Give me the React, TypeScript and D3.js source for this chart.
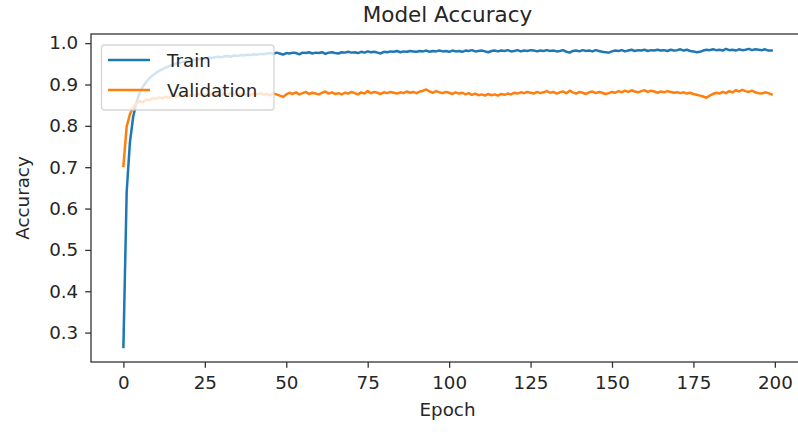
import React, { useEffect, useRef } from 'react';
import * as d3 from 'd3';

// accuracy per epoch
const trainAcc = [
  0.265, 0.640, 0.760, 0.822, 0.856, 0.880, 0.895, 0.906, 0.915, 0.922,
  0.928, 0.933, 0.937, 0.941, 0.944, 0.947, 0.950, 0.952, 0.954, 0.956,
  0.957, 0.959, 0.960, 0.961, 0.963, 0.962, 0.965, 0.964, 0.966, 0.967,
  0.966, 0.968, 0.969, 0.967, 0.970, 0.969, 0.971, 0.970, 0.972, 0.971,
  0.973, 0.972, 0.974, 0.973, 0.975, 0.976, 0.974, 0.977, 0.975, 0.972,
  0.976, 0.975, 0.977, 0.976, 0.973, 0.977, 0.976, 0.978, 0.975, 0.977,
  0.976, 0.978, 0.974, 0.977, 0.978, 0.976, 0.975, 0.978, 0.977, 0.979,
  0.977, 0.978, 0.976, 0.979, 0.977, 0.980, 0.978, 0.979, 0.977, 0.975,
  0.979, 0.978, 0.980, 0.979, 0.981, 0.978, 0.980, 0.979, 0.981, 0.980,
  0.979, 0.981, 0.980, 0.982, 0.979, 0.981, 0.980, 0.982, 0.980, 0.981,
  0.979, 0.982, 0.980, 0.981, 0.979, 0.982, 0.981, 0.983, 0.980, 0.981,
  0.982, 0.980, 0.978, 0.981, 0.982, 0.980, 0.982, 0.981, 0.983, 0.980,
  0.981, 0.983, 0.980, 0.982, 0.981, 0.983, 0.982, 0.980, 0.982, 0.981,
  0.983, 0.981, 0.982, 0.980, 0.981, 0.983, 0.979, 0.977, 0.981, 0.982,
  0.980, 0.983, 0.981, 0.982, 0.980, 0.983, 0.981, 0.979, 0.978, 0.977,
  0.980, 0.982, 0.981, 0.983, 0.980, 0.982, 0.984, 0.981, 0.983, 0.982,
  0.984, 0.981, 0.983, 0.982, 0.984, 0.982, 0.983, 0.981, 0.984, 0.982,
  0.983, 0.985, 0.982, 0.984, 0.981, 0.980, 0.978, 0.979, 0.982, 0.984,
  0.983, 0.985, 0.983, 0.984, 0.982, 0.986, 0.983, 0.984, 0.982, 0.985,
  0.983, 0.984, 0.986, 0.983, 0.985, 0.984, 0.983, 0.985, 0.982, 0.982,
];

const valAcc = [
  0.703, 0.798, 0.828, 0.845, 0.853, 0.860, 0.857, 0.864, 0.862, 0.867,
  0.865, 0.869, 0.866, 0.871, 0.868, 0.872, 0.870, 0.874, 0.871, 0.875,
  0.872, 0.876, 0.873, 0.877, 0.874, 0.876, 0.873, 0.877, 0.875, 0.878,
  0.874, 0.877, 0.875, 0.879, 0.876, 0.874, 0.878, 0.875, 0.877, 0.874,
  0.878, 0.876, 0.879, 0.875, 0.877, 0.874, 0.878, 0.876, 0.873, 0.870,
  0.876, 0.880, 0.877, 0.881, 0.876, 0.879, 0.882, 0.877, 0.880, 0.878,
  0.876, 0.880, 0.883, 0.878, 0.881, 0.877, 0.879, 0.876, 0.880, 0.878,
  0.882, 0.879, 0.876, 0.881, 0.878, 0.884, 0.879, 0.882, 0.880, 0.877,
  0.881, 0.879, 0.882, 0.880, 0.878, 0.881, 0.879, 0.883, 0.880, 0.882,
  0.879, 0.883, 0.885, 0.888, 0.883, 0.880, 0.884, 0.881, 0.879, 0.882,
  0.880, 0.877, 0.881, 0.878, 0.880, 0.876, 0.879, 0.875, 0.878, 0.874,
  0.876, 0.873, 0.877, 0.874, 0.876, 0.873, 0.877, 0.875, 0.878, 0.876,
  0.880, 0.878, 0.881, 0.879, 0.882, 0.880, 0.878, 0.882, 0.879, 0.881,
  0.884, 0.880, 0.882, 0.878, 0.881, 0.883, 0.879, 0.885, 0.881, 0.878,
  0.882, 0.880, 0.877, 0.881, 0.883, 0.879, 0.882, 0.880, 0.877, 0.879,
  0.882, 0.880, 0.884, 0.881, 0.885, 0.882, 0.886, 0.883, 0.881, 0.884,
  0.886, 0.882, 0.885, 0.883, 0.880, 0.883, 0.881, 0.884, 0.882, 0.880,
  0.881, 0.879, 0.881, 0.878, 0.880, 0.877, 0.875, 0.873, 0.871, 0.868,
  0.873, 0.877, 0.880, 0.878, 0.882, 0.879, 0.884, 0.881, 0.886, 0.883,
  0.887, 0.884, 0.882, 0.885, 0.881, 0.879, 0.878, 0.881, 0.879, 0.876,
];

const xTicks = [0, 25, 50, 75, 100, 125, 150, 175, 200];
const yTicks = [0.3, 0.4, 0.5, 0.6, 0.7, 0.8, 0.9, 1.0];
const seriesNames = ['Train', 'Validation'];
const seriesColors = ['#1f77b4', '#ff7f0e'];

const W = 798;
const H = 432;
const FONT = '"DejaVu Sans", sans-serif';
const FS = '18.3px';

const AccuracyChart = () => {
  const ref = useRef<SVGSVGElement>(null);

  useEffect(() => {
    const svg = d3.select(ref.current);
    svg.selectAll('*').remove();

    // axes box (right spine falls just outside the picture, as in the reference)
    const box = { left: 91, right: 804, top: 34, bottom: 362 };

    const n = trainAcc.length;
    const all = trainAcc.concat(valAcc);
    const lo = d3.min(all)!;
    const hi = d3.max(all)!;
    const pad = (hi - lo) * 0.05;
    const xPad = (n - 1) * 0.05;

    const x = d3.scaleLinear().domain([-xPad, n - 1 + xPad]).range([box.left, box.right]);
    const y = d3.scaleLinear().domain([lo - pad, hi + pad]).range([box.bottom, box.top]);

    const textColor = '#262626';

    // lines
    const line = d3
      .line<number>()
      .x((_, i) => x(i))
      .y((d) => y(d));

    [trainAcc, valAcc].forEach((s, k) => {
      svg
        .append('path')
        .datum(s)
        .attr('fill', 'none')
        .attr('stroke', seriesColors[k])
        .attr('stroke-width', 2.5)
        .attr('stroke-linejoin', 'round')
        .attr('stroke-linecap', 'square')
        .attr('d', line);
    });

    // spines
    svg
      .append('rect')
      .attr('x', box.left)
      .attr('y', box.top)
      .attr('width', box.right - box.left)
      .attr('height', box.bottom - box.top)
      .attr('fill', 'none')
      .attr('stroke', '#333')
      .attr('stroke-width', 1.3);

    // x axis
    const gx = svg
      .append('g')
      .attr('transform', `translate(0,${box.bottom})`)
      .call(d3.axisBottom(x).tickValues(xTicks).tickFormat(d3.format('d')).tickSize(5.8).tickPadding(8));
    gx.select('.domain').remove();

    // y axis
    const gy = svg
      .append('g')
      .attr('transform', `translate(${box.left},0)`)
      .call(d3.axisLeft(y).tickValues(yTicks).tickFormat(d3.format('.1f')).tickSize(5.8).tickPadding(7));
    gy.select('.domain').remove();

    [gx, gy].forEach((g) => {
      g.selectAll('line').attr('stroke', '#333').attr('stroke-width', 1.3);
      g.selectAll('text')
        .attr('fill', textColor)
        .style('font-family', FONT)
        .style('font-size', FS);
    });

    // title and labels
    svg
      .append('text')
      .attr('x', (box.left + box.right) / 2)
      .attr('y', 22)
      .attr('text-anchor', 'middle')
      .attr('fill', textColor)
      .style('font-family', FONT)
      .style('font-size', '21.5px')
      .text('Model Accuracy');

    svg
      .append('text')
      .attr('x', (box.left + box.right) / 2)
      .attr('y', 416)
      .attr('text-anchor', 'middle')
      .attr('fill', textColor)
      .style('font-family', FONT)
      .style('font-size', FS)
      .text('Epoch');

    svg
      .append('text')
      .attr('transform', `translate(29,${(box.top + box.bottom) / 2}) rotate(-90)`)
      .attr('text-anchor', 'middle')
      .attr('fill', textColor)
      .style('font-family', FONT)
      .style('font-size', FS)
      .text('Accuracy');

    // legend
    const lg = svg.append('g');
    lg.append('rect')
      .attr('x', 101.5)
      .attr('y', 45)
      .attr('width', 172.5)
      .attr('height', 65)
      .attr('rx', 3)
      .attr('fill', 'white')
      .attr('fill-opacity', 0.8)
      .attr('stroke', '#cccccc')
      .attr('stroke-opacity', 0.8)
      .attr('stroke-width', 1.3);

    seriesNames.forEach((name, k) => {
      const cy = 60 + k * 30;
      lg.append('line')
        .attr('x1', 108)
        .attr('x2', 150)
        .attr('y1', cy)
        .attr('y2', cy)
        .attr('stroke', seriesColors[k])
        .attr('stroke-width', 2.5);
      lg.append('text')
        .attr('x', 167)
        .attr('y', cy + 6.5)
        .attr('fill', textColor)
        .style('font-family', FONT)
        .style('font-size', FS)
        .text(name);
    });
  }, []);

  return (
    <svg
      ref={ref}
      width={W}
      height={H}
      style={{ position: 'absolute', left: 0, top: 0, background: 'white' }}
    />
  );
};

export default function App() {
  return <AccuracyChart />;
}
